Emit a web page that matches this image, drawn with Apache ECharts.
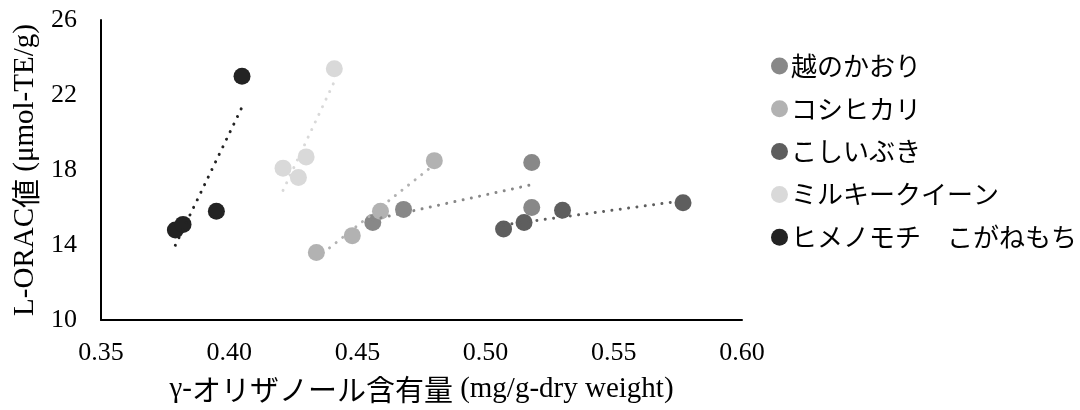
<!DOCTYPE html>
<html>
<head>
<meta charset="utf-8">
<script src="https://cdn.jsdelivr.net/npm/echarts@6/dist/echarts.min.js"></script>
<style>
html,body{margin:0;padding:0;background:#fff;}
#chart{width:1080px;height:410px;}
</style>
</head>
<body>
<div id="chart"></div>
<script>
// ---- data ----
const seriesNames = ['越のかおり', 'コシヒカリ', 'こしいぶき', 'ミルキークイーン', 'ヒメノモチ　こがねもち'];
const koshinokaoriX = [0.456, 0.468, 0.518, 0.518];
const koshinokaoriY = [15.2, 15.9, 18.4, 16.0];
const koshihikariX = [0.434, 0.448, 0.459, 0.480];
const koshihikariY = [13.6, 14.5, 15.8, 18.5];
const koshiibukiX = [0.507, 0.515, 0.530, 0.577];
const koshiibukiY = [14.85, 15.2, 15.85, 16.25];
const milkyqueenX = [0.421, 0.427, 0.430, 0.441];
const milkyqueenY = [18.1, 17.6, 18.7, 23.4];
const himenomochiX = [0.379, 0.382, 0.395, 0.405];
const himenomochiY = [14.8, 15.1, 15.8, 23.0];
const xTicks = [0.35, 0.40, 0.45, 0.50, 0.55, 0.60];
const yTicks = [10, 14, 18, 22, 26];

const colors = ['#888888', '#b2b2b2', '#5e5e5e', '#d9d9d9', '#232323'];
const xs = [koshinokaoriX, koshihikariX, koshiibukiX, milkyqueenX, himenomochiX];
const ys = [koshinokaoriY, koshihikariY, koshiibukiY, milkyqueenY, himenomochiY];

function trend(x, y) {
  const n = x.length;
  const mx = x.reduce((a, b) => a + b, 0) / n;
  const my = y.reduce((a, b) => a + b, 0) / n;
  let sxy = 0, sxx = 0;
  for (let i = 0; i < n; i++) { sxy += (x[i] - mx) * (y[i] - my); sxx += (x[i] - mx) ** 2; }
  const b = sxy / sxx, a = my - b * mx;
  const x0 = Math.min(...x), x1 = Math.max(...x);
  return [[x0, a + b * x0], [x1, a + b * x1]];
}

const serif = 'Liberation Serif';
const jp = 'Noto Sans CJK JP';

const series = [];
seriesNames.forEach((name, i) => {
  series.push({
    name: name,
    type: 'scatter',
    symbol: 'circle',
    symbolSize: 17,
    itemStyle: { color: colors[i], opacity: 1 },
    data: xs[i].map((v, k) => [v, ys[i][k]]),
    z: 3
  });
});
seriesNames.forEach((name, i) => {
  series.push({
    name: name + '_trend',
    type: 'line',
    symbol: 'none',
    silent: true,
    data: trend(xs[i], ys[i]),
    lineStyle: { color: colors[i], width: 3, type: [0.01, 8.4], cap: 'round' },
    z: 4
  });
});

const chart = echarts.init(document.getElementById('chart'), null, { renderer: 'canvas' });
chart.setOption({
  animation: false,
  backgroundColor: '#fff',
  grid: { left: 101, top: 20, right: 338, bottom: 90, containLabel: false },
  legend: {
    data: seriesNames.map(n => ({ name: n, icon: 'circle' })),
    orient: 'vertical',
    left: 766,
    top: 48,
    itemWidth: 17,
    itemHeight: 17,
    itemGap: 16.8,
    textStyle: { fontFamily: jp, fontSize: 26, lineHeight: 26, color: '#000', padding: [0, 0, 0, -2] }
  },
  xAxis: {
    type: 'value',
    min: 0.35, max: 0.60, interval: 0.05,
    axisLine: { show: true, lineStyle: { color: '#000', width: 2 } },
    axisTick: { show: false },
    splitLine: { show: false },
    axisLabel: {
      margin: 20,
      fontFamily: serif, fontSize: 26, color: '#000',
      formatter: v => xTicks.find(t => Math.abs(t - v) < 1e-9) !== undefined ? v.toFixed(2) : ''
    },
    name: '{s|γ-}{j|オリザノール含有量}{s| (mg/g-dry weight)}',
    nameLocation: 'middle',
    nameGap: 55,
    nameTextStyle: {
      rich: {
        s: { fontFamily: serif, fontSize: 29, color: '#000' },
        j: { fontFamily: jp, fontSize: 29, color: '#000' }
      }
    }
  },
  yAxis: {
    type: 'value',
    min: 10, max: 26, interval: 4,
    axisLine: { show: true, lineStyle: { color: '#000', width: 2 } },
    axisTick: { show: false },
    splitLine: { show: false },
    axisLabel: {
      margin: 24,
      fontFamily: serif, fontSize: 26, color: '#000',
      formatter: v => yTicks.includes(v) ? String(v) : ''
    },
    name: '{s|L-ORAC}{j|値}{s| (μmol-TE/g)}',
    nameLocation: 'middle',
    nameRotate: 90,
    nameGap: 60,
    nameTextStyle: {
      rich: {
        s: { fontFamily: serif, fontSize: 29, color: '#000' },
        j: { fontFamily: jp, fontSize: 29, color: '#000' }
      }
    }
  },
  series: series
});
</script>
</body>
</html>
